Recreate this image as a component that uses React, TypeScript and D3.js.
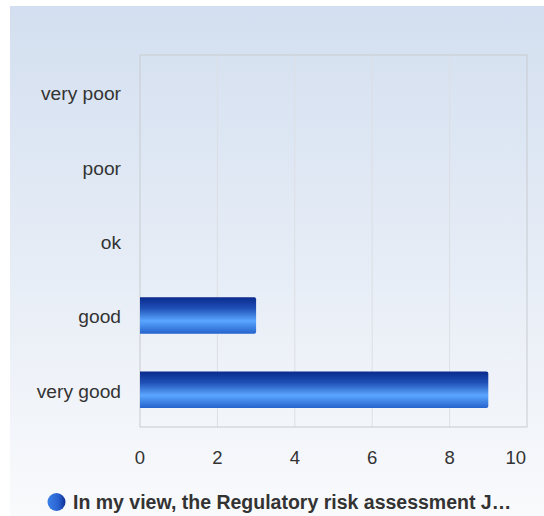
import React from "react";
import * as d3 from "d3";

const categories = ["very poor", "poor", "ok", "good", "very good"];
const counts = [0, 0, 0, 3, 9];
const xTicks = [0, 2, 4, 6, 8, 10];
const seriesName = "In my view, the Regulatory risk assessment J…";

const W = 544;
const H = 516;
const plot = { left: 140, top: 55, right: 527, bottom: 427 };
const font = "Liberation Sans, Arial, sans-serif";

export default function App() {
  const x = d3.scaleLinear().domain([0, 10]).range([plot.left, plot.right]);
  const y = d3
    .scaleBand<string>()
    .domain(categories)
    .range([plot.top, plot.bottom])
    .paddingInner(0.51)
    .paddingOuter(0.255);

  return (
    <svg width={W} height={H} style={{ position: "absolute", left: 0, top: 0 }}>
      <defs>
        <linearGradient id="bg" x1="0" y1="0" x2="0" y2="1">
          <stop offset="0" stopColor="#d3dff0" />
          <stop offset="1" stopColor="#f9fafc" />
        </linearGradient>
        <linearGradient id="bar" x1="0" y1="0" x2="0" y2="1">
          <stop offset="0" stopColor="#0a2a8c" />
          <stop offset="0.3" stopColor="#1e4fb5" />
          <stop offset="0.65" stopColor="#5aa6ff" />
          <stop offset="1" stopColor="#2563cc" />
        </linearGradient>
        <linearGradient id="dot" x1="0" y1="0" x2="1" y2="0">
          <stop offset="0" stopColor="#3a80e8" />
          <stop offset="0.6" stopColor="#2a62d0" />
          <stop offset="1" stopColor="#0e2f96" />
        </linearGradient>
      </defs>
      <rect x={10} y={6} width={W - 10} height={H - 6} fill="url(#bg)" />

      {xTicks.slice(1, -1).map((t) => (
        <line key={t} x1={x(t)} x2={x(t)} y1={plot.top} y2={plot.bottom} stroke="#dcdfe4" strokeWidth={1} />
      ))}
      <rect
        x={plot.left}
        y={plot.top}
        width={plot.right - plot.left}
        height={plot.bottom - plot.top}
        fill="none"
        stroke="#c8cbd0"
        strokeWidth={1}
      />

      {categories.map((c, i) => {
        const v = counts[i];
        if (v <= 0) return null;
        const w = x(v) - x(0);
        const y0 = y(c)!;
        const h = y.bandwidth();
        const r = 2;
        const p = d3.path();
        p.moveTo(x(0), y0);
        p.lineTo(x(0) + w - r, y0);
        p.quadraticCurveTo(x(0) + w, y0, x(0) + w, y0 + r);
        p.lineTo(x(0) + w, y0 + h - r);
        p.quadraticCurveTo(x(0) + w, y0 + h, x(0) + w - r, y0 + h);
        p.lineTo(x(0), y0 + h);
        p.closePath();
        return <path key={c} d={p.toString()} fill="url(#bar)" />;
      })}

      {categories.map((c) => (
        <text
          key={c}
          x={121}
          y={y(c)! + y.bandwidth() / 2}
          dy="0.42em"
          textAnchor="end"
          fontFamily={font}
          fontSize={19.2}
          fill="#333"
        >
          {c}
        </text>
      ))}

      {xTicks.map((t, i) => (
        <text
          key={t}
          x={i === xTicks.length - 1 ? x(t) - 1 : x(t)}
          y={464}
          textAnchor={i === xTicks.length - 1 ? "end" : "middle"}
          fontFamily={font}
          fontSize={18.5}
          fill="#333"
        >
          {t}
        </text>
      ))}

      <circle cx={56.5} cy={502} r={9} fill="url(#dot)" />
      <text x={73} y={509} fontFamily={font} fontSize={19.5} fontWeight="bold" fill="#333">
        {seriesName}
      </text>
    </svg>
  );
}
